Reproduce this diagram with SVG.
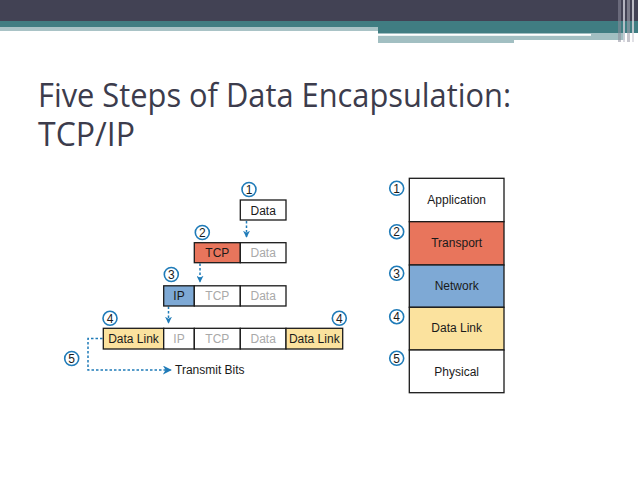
<svg xmlns="http://www.w3.org/2000/svg" width="638" height="478" viewBox="0 0 638 478">
<defs>
<style>
.box{stroke:#1a1a1a;stroke-width:1.3}
.t{font-family:"Liberation Sans",Arial,sans-serif;font-size:12px;text-anchor:middle;fill:#1a1a1a}
.g{fill:#a9a9a9}
.num{font-family:"Liberation Sans",Arial,sans-serif;font-size:12px;text-anchor:middle;fill:#1a1a1a}
.c{fill:#fff;stroke:#1f7bb8;stroke-width:1.6}
.dash{fill:none;stroke:#1f7bb8;stroke-width:1.5;stroke-dasharray:2.5 2}
.title{font-family:"Open Sans","DejaVu Sans",sans-serif;font-size:32px;fill:#3c3c4c}
</style>
<marker id="ah" viewBox="0 0 10 10" refX="9" refY="5" markerWidth="7" markerHeight="7" orient="auto" markerUnits="userSpaceOnUse">
<path d="M0,0 L10,5 L0,10 L3,5 Z" fill="#1f7bb8"/>
</marker>
<marker id="ah2" viewBox="0 0 10 10" refX="9" refY="5" markerWidth="9" markerHeight="9" orient="auto" markerUnits="userSpaceOnUse">
<path d="M0,0 L10,5 L0,10 L3,5 Z" fill="#1f7bb8"/>
</marker>
</defs>
<rect width="638" height="478" fill="#fff"/>
<g id="header">
<rect x="0" y="0" width="638" height="21" fill="#424254"/>
<rect x="0" y="21" width="638" height="6" fill="#407d82"/>
<rect x="0" y="27" width="378" height="4" fill="#a9c3c6"/>
<rect x="378" y="27" width="260" height="6" fill="#407d82"/>
<rect x="378" y="33" width="136" height="10" fill="#a2bfc2"/>
<rect x="514" y="33" width="111" height="7" fill="#a2bfc2"/>
<rect x="378" y="34" width="213" height="1.8" fill="#fff"/>
<rect x="618" y="0" width="3" height="42" fill="#8d8d9a" opacity="0.55"/>
<rect x="623" y="0" width="2" height="42" fill="#d0d0d8" opacity="0.8"/>
<rect x="627" y="0" width="3" height="42" fill="#a0a0ac" opacity="0.6"/>
<rect x="632" y="0" width="2" height="42" fill="#d8d8de" opacity="0.8"/>
</g>
<g id="title">
<text class="title" x="38" y="107" textLength="473" lengthAdjust="spacingAndGlyphs">Five Steps of Data Encapsulation:</text>
<text class="title" x="38" y="146">TCP/IP</text>
</g>
<g id="connectors">
<line class="dash" x1="246.5" y1="221" x2="246.5" y2="237" marker-end="url(#ah)"/>
<line class="dash" x1="200" y1="263.5" x2="200" y2="282" marker-end="url(#ah)"/>
<line class="dash" x1="168.5" y1="306.5" x2="168.5" y2="323" marker-end="url(#ah)"/>
<polyline class="dash" points="102.5,338.5 88,338.5 88,370 171,370" marker-end="url(#ah2)"/>
</g>
<g id="step1">
<circle class="c" cx="249" cy="189.5" r="7"/>
<text class="num" x="249" y="193.8">1</text>
<rect class="box" x="240.3" y="200" width="45.7" height="20" fill="#fff"/>
<text class="t" x="263.2" y="214.5">Data</text>
</g>
<g id="step2">
<circle class="c" cx="202.3" cy="232.5" r="7"/>
<text class="num" x="202.3" y="236.8">2</text>
<rect class="box" x="194.3" y="242.7" width="46" height="20" fill="#e8755c"/>
<rect class="box" x="240.3" y="242.7" width="45.7" height="20" fill="#fff"/>
<text class="t" x="217.3" y="257">TCP</text>
<text class="t g" x="263.2" y="257">Data</text>
</g>
<g id="step3">
<circle class="c" cx="171.3" cy="274.5" r="7"/>
<text class="num" x="171.3" y="278.8">3</text>
<rect class="box" x="163.7" y="285.8" width="30.6" height="20.2" fill="#7ea9d5"/>
<rect class="box" x="194.3" y="285.8" width="46" height="20.2" fill="#fff"/>
<rect class="box" x="240.3" y="285.8" width="45.7" height="20.2" fill="#fff"/>
<text class="t" x="179" y="300.3">IP</text>
<text class="t g" x="217.3" y="300.3">TCP</text>
<text class="t g" x="263.2" y="300.3">Data</text>
</g>
<g id="step4">
<circle class="c" cx="110" cy="318.3" r="7"/>
<text class="num" x="110" y="322.6">4</text>
<circle class="c" cx="339.3" cy="318.3" r="7"/>
<text class="num" x="339.3" y="322.6">4</text>
<rect class="box" x="103.3" y="328.3" width="60.4" height="20.7" fill="#fbe29e"/>
<rect class="box" x="163.7" y="328.3" width="30.6" height="20.7" fill="#fff"/>
<rect class="box" x="194.3" y="328.3" width="46" height="20.7" fill="#fff"/>
<rect class="box" x="240.3" y="328.3" width="45.7" height="20.7" fill="#fff"/>
<rect class="box" x="286" y="328.3" width="56.7" height="20.7" fill="#fbe29e"/>
<text class="t" x="133.5" y="343">Data Link</text>
<text class="t g" x="179" y="343">IP</text>
<text class="t g" x="217.3" y="343">TCP</text>
<text class="t g" x="263.2" y="343">Data</text>
<text class="t" x="314.3" y="343">Data Link</text>
</g>
<g id="step5">
<circle class="c" cx="71.7" cy="358.5" r="7"/>
<text class="num" x="71.7" y="362.8">5</text>
<text class="t" x="175" y="374" style="text-anchor:start">Transmit Bits</text>
</g>
<g id="stack">
<rect class="box" x="409.3" y="178.3" width="94.7" height="43.4" fill="#fff"/>
<rect class="box" x="409.3" y="221.7" width="94.7" height="43.3" fill="#e8755c"/>
<rect class="box" x="409.3" y="265" width="94.7" height="42.3" fill="#7ea9d5"/>
<rect class="box" x="409.3" y="307.3" width="94.7" height="42.7" fill="#fbe29e"/>
<rect class="box" x="409.3" y="350" width="94.7" height="42.7" fill="#fff"/>
<text class="t" x="456.7" y="204">Application</text>
<text class="t" x="456.7" y="247">Transport</text>
<text class="t" x="456.7" y="290">Network</text>
<text class="t" x="456.7" y="332">Data Link</text>
<text class="t" x="456.7" y="375.5">Physical</text>
<circle class="c" cx="396.7" cy="188.3" r="7"/>
<text class="num" x="396.7" y="192.6">1</text>
<circle class="c" cx="396.7" cy="231.7" r="7"/>
<text class="num" x="396.7" y="236">2</text>
<circle class="c" cx="396.7" cy="273.3" r="7"/>
<text class="num" x="396.7" y="277.6">3</text>
<circle class="c" cx="396.7" cy="316.7" r="7"/>
<text class="num" x="396.7" y="321">4</text>
<circle class="c" cx="396.7" cy="358.3" r="7"/>
<text class="num" x="396.7" y="362.6">5</text>
</g>
</svg>
